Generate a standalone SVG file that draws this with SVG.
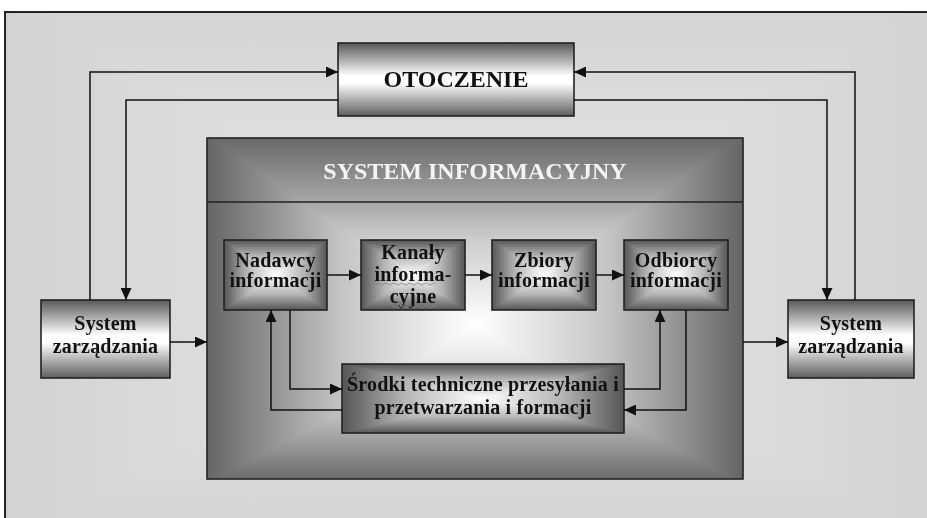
<svg xmlns="http://www.w3.org/2000/svg" width="927" height="518" viewBox="0 0 927 518">
<defs>
<linearGradient id="bgH" x1="0" y1="0" x2="1" y2="0"><stop offset="0" stop-color="#d2d2d2"/><stop offset="0.5" stop-color="#e9e9e9"/><stop offset="1" stop-color="#d2d2d2"/></linearGradient>
<linearGradient id="bgV" x1="0" y1="0" x2="0" y2="1"><stop offset="0" stop-color="#d4d4d4"/><stop offset="0.5" stop-color="#e9e9e9"/><stop offset="1" stop-color="#d4d4d4"/></linearGradient>
<linearGradient id="band" x1="0" y1="0" x2="0" y2="1"><stop offset="0" stop-color="#585858"/><stop offset="0.45" stop-color="#ffffff"/><stop offset="0.55" stop-color="#ffffff"/><stop offset="1" stop-color="#5e5e5e"/></linearGradient>
<linearGradient id="siH" x1="0" y1="0" x2="1" y2="0"><stop offset="0" stop-color="#656565"/><stop offset="0.25" stop-color="#c4c4c4"/><stop offset="0.5" stop-color="#ffffff"/><stop offset="0.75" stop-color="#c4c4c4"/><stop offset="1" stop-color="#656565"/></linearGradient>
<linearGradient id="siV" x1="0" y1="0" x2="0" y2="1"><stop offset="0" stop-color="#686868"/><stop offset="0.3" stop-color="#cdcdcd"/><stop offset="0.55" stop-color="#ffffff"/><stop offset="0.82" stop-color="#bcbcbc"/><stop offset="1" stop-color="#6c6c6c"/></linearGradient>
<linearGradient id="bxH" x1="0" y1="0" x2="1" y2="0"><stop offset="0" stop-color="#555"/><stop offset="0.22" stop-color="#b4b4b4"/><stop offset="0.5" stop-color="#fff"/><stop offset="0.78" stop-color="#b4b4b4"/><stop offset="1" stop-color="#555"/></linearGradient>
<linearGradient id="bxV" x1="0" y1="0" x2="0" y2="1"><stop offset="0" stop-color="#555"/><stop offset="0.22" stop-color="#b4b4b4"/><stop offset="0.5" stop-color="#fff"/><stop offset="0.78" stop-color="#b4b4b4"/><stop offset="1" stop-color="#555"/></linearGradient>
<marker id="arr" markerUnits="userSpaceOnUse" markerWidth="13" markerHeight="11" refX="12" refY="5.5" orient="auto"><path d="M0,0 L12,5.5 L0,11 z" fill="#111"/></marker>
</defs>
<style>
.t{font-family:"Liberation Serif","Times New Roman",serif;font-weight:bold;font-size:20px;fill:#111;text-anchor:middle;letter-spacing:0.2px}
.big{font-size:24px;letter-spacing:0}
.bd{stroke:#222;stroke-width:1.6}
.blend{mix-blend-mode:darken}
.c{fill:none;stroke:#111;stroke-width:1.5}
.a{marker-end:url(#arr)}
</style>
<g id="background">
<rect x="5" y="12" width="940" height="520" fill="url(#bgH)"/>
<rect x="5" y="12" width="940" height="520" fill="url(#bgV)" class="blend"/>
<rect x="5" y="12" width="940" height="520" fill="none" stroke="#222" stroke-width="2"/>
</g>
<g id="system-informacyjny">
<rect x="207" y="138" width="536" height="341" fill="url(#siH)"/>
<rect x="207" y="138" width="536" height="341" fill="url(#siV)" class="blend"/>
<rect x="207" y="138" width="536" height="341" fill="none" class="bd"/>
<line x1="207" y1="202" x2="743" y2="202" stroke="#222" stroke-width="1.6"/>
<text class="t big" x="475" y="179" style="fill:#f4f4f4">SYSTEM INFORMACYJNY</text>
</g>
<g id="otoczenie">
<rect x="338" y="43" width="236" height="73" fill="url(#band)" class="bd"/>
<text class="t big" x="456" y="87">OTOCZENIE</text>
</g>
<g id="system-zarzadzania-lewy">
<rect x="41" y="300" width="129" height="78" fill="url(#band)" class="bd"/>
<text class="t" x="105.5" y="330">System</text>
<text class="t" x="105.5" y="353">zarządzania</text>
</g>
<g id="system-zarzadzania-prawy">
<rect x="788" y="300" width="126" height="78" fill="url(#band)" class="bd"/>
<text class="t" x="851" y="330">System</text>
<text class="t" x="851" y="353">zarządzania</text>
</g>
<g id="nadawcy">
<rect x="224" y="240" width="103" height="70" fill="url(#bxH)"/>
<rect x="224" y="240" width="103" height="70" fill="url(#bxV)" class="blend"/>
<rect x="224" y="240" width="103" height="70" fill="none" class="bd"/>
<text class="t" x="275.5" y="267">Nadawcy</text>
<text class="t" x="275.5" y="287">informacji</text>
</g>
<g id="kanaly">
<rect x="361" y="240" width="104" height="70" fill="url(#bxH)"/>
<rect x="361" y="240" width="104" height="70" fill="url(#bxV)" class="blend"/>
<rect x="361" y="240" width="104" height="70" fill="none" class="bd"/>
<text class="t" x="413" y="259">Kanały</text>
<text class="t" x="413" y="281">informa-</text>
<text class="t" x="413" y="303">cyjne</text>
<path d="M376,284 q2,-2 4,0 t4,0 t4,0 t4,0 t4,0 t4,0 t4,0 t4,0 t4,0 t4,0 t4,0 t4,0 t4,0 t4,0 t4,0" fill="none" stroke="#888" stroke-width="0.8"/>
<path d="M392,307 q2,-2 4,0 t4,0 t4,0 t4,0 t4,0 t4,0 t4,0 t4,0 t4,0 t4,0 t4,0" fill="none" stroke="#888" stroke-width="0.8"/>
</g>
<g id="zbiory">
<rect x="492" y="240" width="104" height="70" fill="url(#bxH)"/>
<rect x="492" y="240" width="104" height="70" fill="url(#bxV)" class="blend"/>
<rect x="492" y="240" width="104" height="70" fill="none" class="bd"/>
<text class="t" x="544" y="267">Zbiory</text>
<text class="t" x="544" y="287">informacji</text>
</g>
<g id="odbiorcy">
<rect x="624" y="240" width="104" height="70" fill="url(#bxH)"/>
<rect x="624" y="240" width="104" height="70" fill="url(#bxV)" class="blend"/>
<rect x="624" y="240" width="104" height="70" fill="none" class="bd"/>
<text class="t" x="676" y="267">Odbiorcy</text>
<text class="t" x="676" y="287">informacji</text>
</g>
<g id="srodki">
<rect x="342" y="364" width="282" height="69" fill="url(#bxH)"/>
<rect x="342" y="364" width="282" height="69" fill="url(#bxV)" class="blend"/>
<rect x="342" y="364" width="282" height="69" fill="none" class="bd"/>
<text class="t" x="483" y="391">Środki techniczne przesyłania i</text>
<text class="t" x="483" y="414">przetwarzania i formacji</text>
</g>
<g id="connectors">
<path class="c a" d="M90,300 V72 H338"/>
<path class="c a" d="M338,100 H126 V300"/>
<path class="c a" d="M855,300 V72 H574"/>
<path class="c a" d="M574,100 H827 V300"/>
<path class="c a" d="M170,342 H207"/>
<path class="c a" d="M743,342 H788"/>
<path class="c a" d="M327,275 H361"/>
<path class="c a" d="M465,275 H492"/>
<path class="c a" d="M596,275 H624"/>
<path class="c a" d="M290,310 V389 H342"/>
<path class="c a" d="M342,410 H271 V310"/>
<path class="c a" d="M624,389 H660 V310"/>
<path class="c a" d="M686,310 V410 H624"/>
</g>
</svg>
